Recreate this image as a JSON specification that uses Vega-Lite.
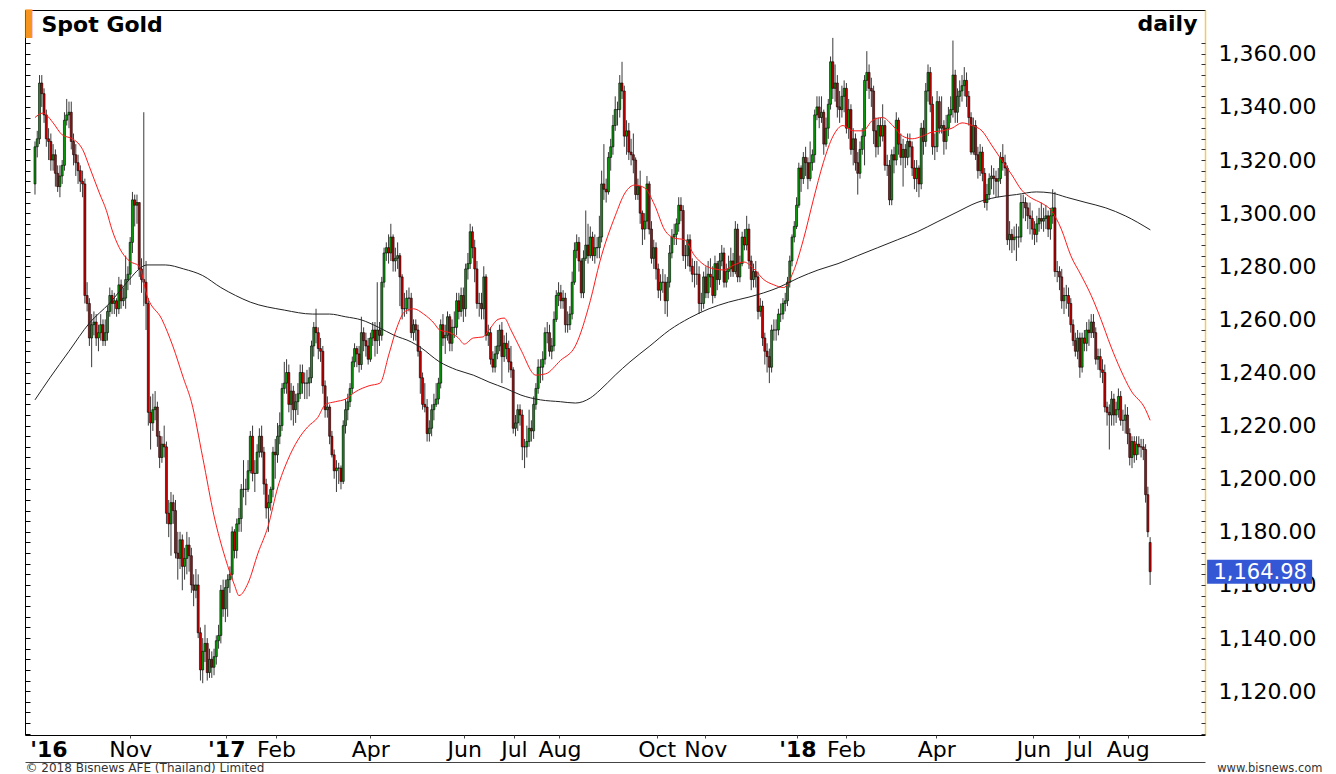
{
"$schema":"https://vega.github.io/schema/vega-lite/v6.json",
"width":1180,"height":725,
"autosize":{"type":"none"},
"padding":{"left":25,"top":10,"right":131,"bottom":39},
"background":"white",
"config":{"view":{"stroke":"#000","strokeWidth":1}},
"datasets":{
"candles":[
{"i":0,"o":1311,"h":1327,"l":1307,"c":1325},{"i":1,"o":1325,"h":1331,"l":1321,"c":1328},{"i":2,"o":1328,"h":1352,"l":1326,"c":1349},{"i":3,"o":1349,"h":1352,"l":1340,"c":1345},{"i":4,"o":1345,"h":1347,"l":1334,"c":1337},{"i":5,"o":1337,"h":1339,"l":1325,"c":1328},{"i":6,"o":1328,"h":1332,"l":1320,"c":1327},{"i":7,"o":1327,"h":1330,"l":1316,"c":1320},{"i":8,"o":1320,"h":1326,"l":1316,"c":1322},{"i":9,"o":1322,"h":1324,"l":1310,"c":1315},
{"i":10,"o":1315,"h":1318,"l":1308,"c":1310},{"i":11,"o":1310,"h":1318,"l":1306,"c":1314},{"i":12,"o":1314,"h":1320,"l":1311,"c":1318},{"i":13,"o":1318,"h":1338,"l":1316,"c":1335},{"i":14,"o":1335,"h":1343,"l":1333,"c":1337},{"i":15,"o":1337,"h":1342,"l":1332,"c":1338},{"i":16,"o":1338,"h":1342,"l":1324,"c":1327},{"i":17,"o":1327,"h":1330,"l":1318,"c":1322},{"i":18,"o":1322,"h":1326,"l":1314,"c":1319},{"i":19,"o":1319,"h":1322,"l":1311,"c":1316},
{"i":20,"o":1316,"h":1318,"l":1308,"c":1312},{"i":21,"o":1312,"h":1316,"l":1306,"c":1311},{"i":22,"o":1311,"h":1313,"l":1266,"c":1269},{"i":23,"o":1269,"h":1274,"l":1263,"c":1266},{"i":24,"o":1266,"h":1268,"l":1250,"c":1253},{"i":25,"o":1253,"h":1262,"l":1242,"c":1258},{"i":26,"o":1258,"h":1263,"l":1254,"c":1259},{"i":27,"o":1259,"h":1262,"l":1250,"c":1253},{"i":28,"o":1253,"h":1258,"l":1248,"c":1255},{"i":29,"o":1255,"h":1262,"l":1252,"c":1258},
{"i":30,"o":1258,"h":1260,"l":1250,"c":1252},{"i":31,"o":1252,"h":1260,"l":1250,"c":1255},{"i":32,"o":1255,"h":1265,"l":1252,"c":1263},{"i":33,"o":1263,"h":1272,"l":1261,"c":1269},{"i":34,"o":1269,"h":1271,"l":1262,"c":1266},{"i":35,"o":1266,"h":1270,"l":1262,"c":1267},{"i":36,"o":1267,"h":1268,"l":1261,"c":1264},{"i":37,"o":1264,"h":1276,"l":1262,"c":1273},{"i":38,"o":1273,"h":1275,"l":1264,"c":1267},{"i":39,"o":1267,"h":1272,"l":1265,"c":1268},
{"i":40,"o":1268,"h":1284,"l":1264,"c":1275},{"i":41,"o":1275,"h":1280,"l":1271,"c":1277},{"i":42,"o":1277,"h":1291,"l":1273,"c":1289},{"i":43,"o":1289,"h":1308,"l":1285,"c":1305},{"i":44,"o":1305,"h":1307,"l":1295,"c":1303},{"i":45,"o":1303,"h":1307,"l":1296,"c":1304},{"i":46,"o":1304,"h":1304,"l":1276,"c":1279},{"i":47,"o":1279,"h":1283,"l":1270,"c":1275},{"i":48,"o":1275,"h":1338,"l":1265,"c":1274},{"i":49,"o":1274,"h":1282,"l":1256,"c":1266},
{"i":50,"o":1266,"h":1268,"l":1220,"c":1225},{"i":51,"o":1225,"h":1231,"l":1211,"c":1221},{"i":52,"o":1221,"h":1232,"l":1218,"c":1226},{"i":53,"o":1226,"h":1233,"l":1222,"c":1227},{"i":54,"o":1227,"h":1229,"l":1212,"c":1216},{"i":55,"o":1216,"h":1218,"l":1204,"c":1208},{"i":56,"o":1208,"h":1216,"l":1206,"c":1213},{"i":57,"o":1213,"h":1220,"l":1208,"c":1212},{"i":58,"o":1212,"h":1214,"l":1183,"c":1187},{"i":59,"o":1187,"h":1192,"l":1178,"c":1183},
{"i":60,"o":1183,"h":1195,"l":1171,"c":1191},{"i":61,"o":1191,"h":1194,"l":1183,"c":1188},{"i":62,"o":1188,"h":1192,"l":1170,"c":1172},{"i":63,"o":1172,"h":1180,"l":1162,"c":1170},{"i":64,"o":1170,"h":1180,"l":1166,"c":1177},{"i":65,"o":1177,"h":1179,"l":1158,"c":1167},{"i":66,"o":1167,"h":1174,"l":1162,"c":1170},{"i":67,"o":1170,"h":1180,"l":1164,"c":1175},{"i":68,"o":1175,"h":1178,"l":1165,"c":1171},{"i":69,"o":1171,"h":1174,"l":1157,"c":1160},
{"i":70,"o":1160,"h":1164,"l":1152,"c":1158},{"i":71,"o":1158,"h":1166,"l":1155,"c":1160},{"i":72,"o":1160,"h":1164,"l":1140,"c":1142},{"i":73,"o":1142,"h":1144,"l":1124,"c":1128},{"i":74,"o":1128,"h":1140,"l":1123,"c":1135},{"i":75,"o":1135,"h":1145,"l":1131,"c":1138},{"i":76,"o":1138,"h":1140,"l":1124,"c":1127},{"i":77,"o":1127,"h":1136,"l":1125,"c":1132},{"i":78,"o":1132,"h":1135,"l":1125,"c":1129},{"i":79,"o":1129,"h":1136,"l":1126,"c":1133},
{"i":80,"o":1133,"h":1141,"l":1130,"c":1139},{"i":81,"o":1139,"h":1145,"l":1136,"c":1141},{"i":82,"o":1141,"h":1160,"l":1138,"c":1158},{"i":83,"o":1158,"h":1162,"l":1148,"c":1151},{"i":84,"o":1151,"h":1162,"l":1146,"c":1159},{"i":85,"o":1159,"h":1164,"l":1148,"c":1162},{"i":86,"o":1162,"h":1167,"l":1157,"c":1164},{"i":87,"o":1164,"h":1182,"l":1162,"c":1180},{"i":88,"o":1180,"h":1181,"l":1170,"c":1173},{"i":89,"o":1173,"h":1185,"l":1170,"c":1183},
{"i":90,"o":1183,"h":1189,"l":1180,"c":1185},{"i":91,"o":1185,"h":1198,"l":1180,"c":1196},{"i":92,"o":1196,"h":1207,"l":1193,"c":1196},{"i":93,"o":1196,"h":1200,"l":1190,"c":1196},{"i":94,"o":1196,"h":1207,"l":1195,"c":1203},{"i":95,"o":1203,"h":1218,"l":1202,"c":1216},{"i":96,"o":1216,"h":1220,"l":1199,"c":1202},{"i":97,"o":1202,"h":1207,"l":1195,"c":1202},{"i":98,"o":1202,"h":1213,"l":1202,"c":1210},{"i":99,"o":1210,"h":1219,"l":1208,"c":1216},
{"i":100,"o":1216,"h":1220,"l":1208,"c":1210},{"i":101,"o":1210,"h":1212,"l":1194,"c":1198},{"i":102,"o":1198,"h":1200,"l":1185,"c":1189},{"i":103,"o":1189,"h":1194,"l":1180,"c":1191},{"i":104,"o":1191,"h":1197,"l":1188,"c":1196},{"i":105,"o":1196,"h":1212,"l":1193,"c":1210},{"i":106,"o":1210,"h":1215,"l":1200,"c":1209},{"i":107,"o":1209,"h":1221,"l":1206,"c":1216},{"i":108,"o":1216,"h":1225,"l":1213,"c":1220},{"i":109,"o":1220,"h":1236,"l":1218,"c":1234},
{"i":110,"o":1234,"h":1244,"l":1232,"c":1236},{"i":111,"o":1236,"h":1245,"l":1232,"c":1240},{"i":112,"o":1240,"h":1243,"l":1225,"c":1228},{"i":113,"o":1228,"h":1236,"l":1222,"c":1233},{"i":114,"o":1233,"h":1235,"l":1220,"c":1226},{"i":115,"o":1226,"h":1232,"l":1221,"c":1229},{"i":116,"o":1229,"h":1236,"l":1224,"c":1232},{"i":117,"o":1232,"h":1243,"l":1230,"c":1240},{"i":118,"o":1240,"h":1243,"l":1232,"c":1236},{"i":119,"o":1236,"h":1240,"l":1230,"c":1236},
{"i":120,"o":1236,"h":1241,"l":1230,"c":1236},{"i":121,"o":1236,"h":1242,"l":1231,"c":1238},{"i":122,"o":1238,"h":1252,"l":1236,"c":1250},{"i":123,"o":1250,"h":1259,"l":1246,"c":1257},{"i":124,"o":1257,"h":1264,"l":1251,"c":1255},{"i":125,"o":1255,"h":1257,"l":1245,"c":1249},{"i":126,"o":1249,"h":1253,"l":1244,"c":1248},{"i":127,"o":1248,"h":1250,"l":1232,"c":1235},{"i":128,"o":1235,"h":1237,"l":1223,"c":1226},{"i":129,"o":1226,"h":1231,"l":1223,"c":1227},
{"i":130,"o":1227,"h":1228,"l":1213,"c":1216},{"i":131,"o":1216,"h":1218,"l":1208,"c":1209},{"i":132,"o":1209,"h":1211,"l":1200,"c":1203},{"i":133,"o":1203,"h":1207,"l":1195,"c":1204},{"i":134,"o":1204,"h":1206,"l":1198,"c":1204},{"i":135,"o":1204,"h":1205,"l":1196,"c":1199},{"i":136,"o":1199,"h":1222,"l":1198,"c":1220},{"i":137,"o":1220,"h":1230,"l":1217,"c":1226},{"i":138,"o":1226,"h":1232,"l":1222,"c":1229},{"i":139,"o":1229,"h":1236,"l":1227,"c":1234},
{"i":140,"o":1234,"h":1246,"l":1232,"c":1244},{"i":141,"o":1244,"h":1251,"l":1242,"c":1249},{"i":142,"o":1249,"h":1250,"l":1242,"c":1247},{"i":143,"o":1247,"h":1250,"l":1240,"c":1243},{"i":144,"o":1243,"h":1261,"l":1241,"c":1255},{"i":145,"o":1255,"h":1257,"l":1248,"c":1252},{"i":146,"o":1252,"h":1255,"l":1246,"c":1250},{"i":147,"o":1250,"h":1253,"l":1243,"c":1245},{"i":148,"o":1245,"h":1255,"l":1244,"c":1253},{"i":149,"o":1253,"h":1259,"l":1250,"c":1256},
{"i":150,"o":1256,"h":1259,"l":1246,"c":1252},{"i":151,"o":1252,"h":1274,"l":1247,"c":1256},{"i":152,"o":1256,"h":1259,"l":1250,"c":1254},{"i":153,"o":1254,"h":1276,"l":1252,"c":1274},{"i":154,"o":1274,"h":1287,"l":1272,"c":1285},{"i":155,"o":1285,"h":1289,"l":1282,"c":1287},{"i":156,"o":1287,"h":1292,"l":1281,"c":1285},{"i":157,"o":1285,"h":1296,"l":1282,"c":1291},{"i":158,"o":1291,"h":1292,"l":1278,"c":1282},{"i":159,"o":1282,"h":1287,"l":1278,"c":1283},
{"i":160,"o":1283,"h":1289,"l":1279,"c":1284},{"i":161,"o":1284,"h":1285,"l":1265,"c":1276},{"i":162,"o":1276,"h":1277,"l":1260,"c":1264},{"i":163,"o":1264,"h":1270,"l":1261,"c":1264},{"i":164,"o":1264,"h":1271,"l":1262,"c":1268},{"i":165,"o":1268,"h":1272,"l":1263,"c":1268},{"i":166,"o":1268,"h":1270,"l":1253,"c":1255},{"i":167,"o":1255,"h":1260,"l":1252,"c":1258},{"i":168,"o":1258,"h":1260,"l":1252,"c":1256},{"i":169,"o":1256,"h":1258,"l":1246,"c":1248},
{"i":170,"o":1248,"h":1250,"l":1232,"c":1238},{"i":171,"o":1238,"h":1240,"l":1226,"c":1228},{"i":172,"o":1228,"h":1236,"l":1225,"c":1227},{"i":173,"o":1227,"h":1230,"l":1214,"c":1217},{"i":174,"o":1217,"h":1222,"l":1214,"c":1219},{"i":175,"o":1219,"h":1228,"l":1216,"c":1226},{"i":176,"o":1226,"h":1232,"l":1222,"c":1228},{"i":177,"o":1228,"h":1236,"l":1227,"c":1230},{"i":178,"o":1230,"h":1238,"l":1228,"c":1236},{"i":179,"o":1236,"h":1260,"l":1234,"c":1258},
{"i":180,"o":1258,"h":1262,"l":1250,"c":1253},{"i":181,"o":1253,"h":1258,"l":1247,"c":1254},{"i":182,"o":1254,"h":1263,"l":1252,"c":1261},{"i":183,"o":1261,"h":1262,"l":1248,"c":1251},{"i":184,"o":1251,"h":1260,"l":1248,"c":1257},{"i":185,"o":1257,"h":1263,"l":1253,"c":1257},{"i":186,"o":1257,"h":1270,"l":1254,"c":1267},{"i":187,"o":1267,"h":1270,"l":1260,"c":1263},{"i":188,"o":1263,"h":1272,"l":1261,"c":1269},{"i":189,"o":1269,"h":1272,"l":1259,"c":1264},
{"i":190,"o":1264,"h":1281,"l":1261,"c":1279},{"i":191,"o":1279,"h":1285,"l":1275,"c":1281},{"i":192,"o":1281,"h":1296,"l":1279,"c":1293},{"i":193,"o":1293,"h":1295,"l":1283,"c":1287},{"i":194,"o":1287,"h":1290,"l":1274,"c":1279},{"i":195,"o":1279,"h":1282,"l":1264,"c":1266},{"i":196,"o":1266,"h":1270,"l":1261,"c":1266},{"i":197,"o":1266,"h":1270,"l":1260,"c":1264},{"i":198,"o":1264,"h":1280,"l":1260,"c":1276},{"i":199,"o":1276,"h":1277,"l":1252,"c":1254},
{"i":200,"o":1254,"h":1258,"l":1250,"c":1255},{"i":201,"o":1255,"h":1257,"l":1243,"c":1245},{"i":202,"o":1245,"h":1248,"l":1240,"c":1242},{"i":203,"o":1242,"h":1250,"l":1240,"c":1247},{"i":204,"o":1247,"h":1256,"l":1245,"c":1250},{"i":205,"o":1250,"h":1258,"l":1248,"c":1256},{"i":206,"o":1256,"h":1259,"l":1236,"c":1246},{"i":207,"o":1246,"h":1254,"l":1244,"c":1251},{"i":208,"o":1251,"h":1255,"l":1245,"c":1249},{"i":209,"o":1249,"h":1252,"l":1240,"c":1244},
{"i":210,"o":1244,"h":1250,"l":1238,"c":1241},{"i":211,"o":1241,"h":1242,"l":1217,"c":1219},{"i":212,"o":1219,"h":1224,"l":1216,"c":1221},{"i":213,"o":1221,"h":1228,"l":1218,"c":1226},{"i":214,"o":1226,"h":1228,"l":1220,"c":1224},{"i":215,"o":1224,"h":1226,"l":1207,"c":1212},{"i":216,"o":1212,"h":1215,"l":1204,"c":1212},{"i":217,"o":1212,"h":1220,"l":1208,"c":1214},{"i":218,"o":1214,"h":1226,"l":1212,"c":1219},{"i":219,"o":1219,"h":1222,"l":1214,"c":1218},
{"i":220,"o":1218,"h":1231,"l":1215,"c":1228},{"i":221,"o":1228,"h":1236,"l":1226,"c":1234},{"i":222,"o":1234,"h":1245,"l":1232,"c":1242},{"i":223,"o":1242,"h":1245,"l":1236,"c":1242},{"i":224,"o":1242,"h":1248,"l":1237,"c":1245},{"i":225,"o":1245,"h":1257,"l":1243,"c":1255},{"i":226,"o":1255,"h":1259,"l":1251,"c":1255},{"i":227,"o":1255,"h":1258,"l":1246,"c":1248},{"i":228,"o":1248,"h":1253,"l":1245,"c":1250},{"i":229,"o":1250,"h":1263,"l":1248,"c":1260},
{"i":230,"o":1260,"h":1271,"l":1259,"c":1269},{"i":231,"o":1269,"h":1274,"l":1265,"c":1270},{"i":232,"o":1270,"h":1273,"l":1264,"c":1267},{"i":233,"o":1267,"h":1271,"l":1264,"c":1268},{"i":234,"o":1268,"h":1270,"l":1255,"c":1258},{"i":235,"o":1258,"h":1263,"l":1255,"c":1258},{"i":236,"o":1258,"h":1265,"l":1256,"c":1262},{"i":237,"o":1262,"h":1278,"l":1260,"c":1274},{"i":238,"o":1274,"h":1289,"l":1273,"c":1286},{"i":239,"o":1286,"h":1292,"l":1283,"c":1289},
{"i":240,"o":1289,"h":1291,"l":1278,"c":1282},{"i":241,"o":1282,"h":1283,"l":1268,"c":1270},{"i":242,"o":1270,"h":1286,"l":1268,"c":1283},{"i":243,"o":1283,"h":1301,"l":1282,"c":1288},{"i":244,"o":1288,"h":1296,"l":1281,"c":1284},{"i":245,"o":1284,"h":1295,"l":1283,"c":1291},{"i":246,"o":1291,"h":1293,"l":1282,"c":1284},{"i":247,"o":1284,"h":1292,"l":1281,"c":1287},{"i":248,"o":1287,"h":1291,"l":1283,"c":1287},{"i":249,"o":1287,"h":1299,"l":1283,"c":1291},
{"i":250,"o":1291,"h":1316,"l":1289,"c":1311},{"i":251,"o":1311,"h":1326,"l":1305,"c":1309},{"i":252,"o":1309,"h":1313,"l":1304,"c":1308},{"i":253,"o":1308,"h":1323,"l":1307,"c":1321},{"i":254,"o":1321,"h":1328,"l":1316,"c":1325},{"i":255,"o":1325,"h":1337,"l":1322,"c":1333},{"i":256,"o":1333,"h":1344,"l":1331,"c":1339},{"i":257,"o":1339,"h":1342,"l":1333,"c":1339},{"i":258,"o":1339,"h":1352,"l":1336,"c":1349},{"i":259,"o":1349,"h":1357,"l":1343,"c":1346},
{"i":260,"o":1346,"h":1348,"l":1325,"c":1329},{"i":261,"o":1329,"h":1335,"l":1322,"c":1331},{"i":262,"o":1331,"h":1334,"l":1320,"c":1323},{"i":263,"o":1323,"h":1328,"l":1318,"c":1322},{"i":264,"o":1322,"h":1330,"l":1315,"c":1320},{"i":265,"o":1320,"h":1321,"l":1305,"c":1307},{"i":266,"o":1307,"h":1313,"l":1305,"c":1310},{"i":267,"o":1310,"h":1316,"l":1296,"c":1300},{"i":268,"o":1300,"h":1301,"l":1288,"c":1294},{"i":269,"o":1294,"h":1300,"l":1290,"c":1297},
{"i":270,"o":1297,"h":1314,"l":1294,"c":1311},{"i":271,"o":1311,"h":1312,"l":1292,"c":1294},{"i":272,"o":1294,"h":1297,"l":1281,"c":1283},{"i":273,"o":1283,"h":1290,"l":1279,"c":1287},{"i":274,"o":1287,"h":1289,"l":1275,"c":1279},{"i":275,"o":1279,"h":1281,"l":1268,"c":1271},{"i":276,"o":1271,"h":1277,"l":1267,"c":1274},{"i":277,"o":1274,"h":1279,"l":1270,"c":1274},{"i":278,"o":1274,"h":1277,"l":1262,"c":1267},{"i":279,"o":1267,"h":1276,"l":1261,"c":1274},
{"i":280,"o":1274,"h":1288,"l":1272,"c":1285},{"i":281,"o":1285,"h":1294,"l":1283,"c":1291},{"i":282,"o":1291,"h":1296,"l":1288,"c":1292},{"i":283,"o":1292,"h":1298,"l":1288,"c":1296},{"i":284,"o":1296,"h":1306,"l":1293,"c":1303},{"i":285,"o":1303,"h":1306,"l":1297,"c":1301},{"i":286,"o":1301,"h":1303,"l":1282,"c":1284},{"i":287,"o":1284,"h":1288,"l":1279,"c":1284},{"i":288,"o":1284,"h":1292,"l":1280,"c":1290},{"i":289,"o":1290,"h":1292,"l":1278,"c":1280},
{"i":290,"o":1280,"h":1283,"l":1274,"c":1277},{"i":291,"o":1277,"h":1282,"l":1272,"c":1277},{"i":292,"o":1277,"h":1282,"l":1273,"c":1277},{"i":293,"o":1277,"h":1280,"l":1262,"c":1266},{"i":294,"o":1266,"h":1270,"l":1263,"c":1266},{"i":295,"o":1266,"h":1278,"l":1264,"c":1276},{"i":296,"o":1276,"h":1280,"l":1268,"c":1270},{"i":297,"o":1270,"h":1282,"l":1268,"c":1277},{"i":298,"o":1277,"h":1283,"l":1272,"c":1276},{"i":299,"o":1276,"h":1280,"l":1266,"c":1269},
{"i":300,"o":1269,"h":1284,"l":1268,"c":1281},{"i":301,"o":1281,"h":1282,"l":1271,"c":1275},{"i":302,"o":1275,"h":1285,"l":1273,"c":1282},{"i":303,"o":1282,"h":1288,"l":1280,"c":1285},{"i":304,"o":1285,"h":1287,"l":1272,"c":1274},{"i":305,"o":1274,"h":1281,"l":1272,"c":1278},{"i":306,"o":1278,"h":1284,"l":1275,"c":1279},{"i":307,"o":1279,"h":1287,"l":1276,"c":1282},{"i":308,"o":1282,"h":1285,"l":1276,"c":1278},{"i":309,"o":1278,"h":1297,"l":1277,"c":1294},
{"i":310,"o":1294,"h":1296,"l":1274,"c":1276},{"i":311,"o":1276,"h":1284,"l":1274,"c":1281},{"i":312,"o":1281,"h":1293,"l":1280,"c":1291},{"i":313,"o":1291,"h":1294,"l":1286,"c":1288},{"i":314,"o":1288,"h":1299,"l":1286,"c":1294},{"i":315,"o":1294,"h":1296,"l":1279,"c":1282},{"i":316,"o":1282,"h":1284,"l":1271,"c":1275},{"i":317,"o":1275,"h":1281,"l":1272,"c":1278},{"i":318,"o":1278,"h":1282,"l":1272,"c":1276},{"i":319,"o":1276,"h":1278,"l":1260,"c":1263},
{"i":320,"o":1263,"h":1268,"l":1261,"c":1265},{"i":321,"o":1265,"h":1267,"l":1250,"c":1253},{"i":322,"o":1253,"h":1255,"l":1243,"c":1248},{"i":323,"o":1248,"h":1251,"l":1240,"c":1246},{"i":324,"o":1246,"h":1249,"l":1236,"c":1242},{"i":325,"o":1242,"h":1258,"l":1240,"c":1256},{"i":326,"o":1256,"h":1260,"l":1252,"c":1256},{"i":327,"o":1256,"h":1260,"l":1252,"c":1256},{"i":328,"o":1256,"h":1264,"l":1254,"c":1262},{"i":329,"o":1262,"h":1266,"l":1259,"c":1262},
{"i":330,"o":1262,"h":1268,"l":1260,"c":1266},{"i":331,"o":1266,"h":1270,"l":1263,"c":1267},{"i":332,"o":1267,"h":1276,"l":1265,"c":1274},{"i":333,"o":1274,"h":1284,"l":1272,"c":1282},{"i":334,"o":1282,"h":1292,"l":1280,"c":1291},{"i":335,"o":1291,"h":1297,"l":1289,"c":1295},{"i":336,"o":1295,"h":1306,"l":1294,"c":1303},{"i":337,"o":1303,"h":1319,"l":1302,"c":1317},{"i":338,"o":1317,"h":1318,"l":1308,"c":1313},{"i":339,"o":1313,"h":1323,"l":1311,"c":1321},
{"i":340,"o":1321,"h":1325,"l":1314,"c":1319},{"i":341,"o":1319,"h":1321,"l":1309,"c":1313},{"i":342,"o":1313,"h":1327,"l":1312,"c":1319},{"i":343,"o":1319,"h":1324,"l":1316,"c":1322},{"i":344,"o":1322,"h":1339,"l":1319,"c":1337},{"i":345,"o":1337,"h":1344,"l":1335,"c":1340},{"i":346,"o":1340,"h":1344,"l":1332,"c":1336},{"i":347,"o":1336,"h":1344,"l":1334,"c":1338},{"i":348,"o":1338,"h":1339,"l":1322,"c":1326},{"i":349,"o":1326,"h":1336,"l":1325,"c":1332},
{"i":350,"o":1332,"h":1343,"l":1328,"c":1341},{"i":351,"o":1341,"h":1359,"l":1339,"c":1357},{"i":352,"o":1357,"h":1366,"l":1343,"c":1347},{"i":353,"o":1347,"h":1356,"l":1342,"c":1349},{"i":354,"o":1349,"h":1352,"l":1336,"c":1340},{"i":355,"o":1340,"h":1346,"l":1334,"c":1339},{"i":356,"o":1339,"h":1348,"l":1336,"c":1344},{"i":357,"o":1344,"h":1350,"l":1338,"c":1347},{"i":358,"o":1347,"h":1349,"l":1330,"c":1332},{"i":359,"o":1332,"h":1343,"l":1328,"c":1339},
{"i":360,"o":1339,"h":1341,"l":1322,"c":1324},{"i":361,"o":1324,"h":1332,"l":1318,"c":1328},{"i":362,"o":1328,"h":1330,"l":1316,"c":1319},{"i":363,"o":1319,"h":1323,"l":1307,"c":1315},{"i":364,"o":1315,"h":1327,"l":1313,"c":1324},{"i":365,"o":1324,"h":1332,"l":1322,"c":1329},{"i":366,"o":1329,"h":1352,"l":1318,"c":1350},{"i":367,"o":1350,"h":1361,"l":1346,"c":1353},{"i":368,"o":1353,"h":1356,"l":1343,"c":1347},{"i":369,"o":1347,"h":1351,"l":1340,"c":1346},
{"i":370,"o":1346,"h":1348,"l":1326,"c":1331},{"i":371,"o":1331,"h":1336,"l":1321,"c":1325},{"i":372,"o":1325,"h":1336,"l":1322,"c":1333},{"i":373,"o":1333,"h":1336,"l":1325,"c":1329},{"i":374,"o":1329,"h":1341,"l":1327,"c":1333},{"i":375,"o":1333,"h":1335,"l":1316,"c":1318},{"i":376,"o":1318,"h":1322,"l":1314,"c":1318},{"i":377,"o":1318,"h":1320,"l":1303,"c":1305},{"i":378,"o":1305,"h":1324,"l":1303,"c":1322},{"i":379,"o":1322,"h":1325,"l":1315,"c":1320},
{"i":380,"o":1320,"h":1338,"l":1318,"c":1335},{"i":381,"o":1335,"h":1336,"l":1322,"c":1326},{"i":382,"o":1326,"h":1330,"l":1318,"c":1321},{"i":383,"o":1321,"h":1328,"l":1310,"c":1324},{"i":384,"o":1324,"h":1326,"l":1317,"c":1321},{"i":385,"o":1321,"h":1330,"l":1318,"c":1327},{"i":386,"o":1327,"h":1330,"l":1321,"c":1325},{"i":387,"o":1325,"h":1327,"l":1314,"c":1317},{"i":388,"o":1317,"h":1320,"l":1309,"c":1313},{"i":389,"o":1313,"h":1320,"l":1308,"c":1317},
{"i":390,"o":1317,"h":1318,"l":1306,"c":1311},{"i":391,"o":1311,"h":1334,"l":1309,"c":1332},{"i":392,"o":1332,"h":1335,"l":1322,"c":1327},{"i":393,"o":1327,"h":1349,"l":1325,"c":1346},{"i":394,"o":1346,"h":1356,"l":1342,"c":1353},{"i":395,"o":1353,"h":1355,"l":1338,"c":1341},{"i":396,"o":1341,"h":1344,"l":1322,"c":1325},{"i":397,"o":1325,"h":1330,"l":1320,"c":1325},{"i":398,"o":1325,"h":1346,"l":1323,"c":1342},{"i":399,"o":1342,"h":1344,"l":1330,"c":1332},
{"i":400,"o":1332,"h":1344,"l":1330,"c":1333},{"i":401,"o":1333,"h":1335,"l":1322,"c":1327},{"i":402,"o":1327,"h":1337,"l":1324,"c":1332},{"i":403,"o":1332,"h":1340,"l":1329,"c":1337},{"i":404,"o":1337,"h":1344,"l":1334,"c":1339},{"i":405,"o":1339,"h":1365,"l":1336,"c":1352},{"i":406,"o":1352,"h":1354,"l":1334,"c":1338},{"i":407,"o":1338,"h":1347,"l":1334,"c":1344},{"i":408,"o":1344,"h":1350,"l":1340,"c":1346},{"i":409,"o":1346,"h":1352,"l":1342,"c":1348},
{"i":410,"o":1348,"h":1355,"l":1344,"c":1350},{"i":411,"o":1350,"h":1353,"l":1340,"c":1344},{"i":412,"o":1344,"h":1346,"l":1333,"c":1336},{"i":413,"o":1336,"h":1338,"l":1322,"c":1323},{"i":414,"o":1323,"h":1336,"l":1322,"c":1333},{"i":415,"o":1333,"h":1335,"l":1320,"c":1322},{"i":416,"o":1322,"h":1325,"l":1313,"c":1316},{"i":417,"o":1316,"h":1326,"l":1314,"c":1323},{"i":418,"o":1323,"h":1325,"l":1312,"c":1315},{"i":419,"o":1315,"h":1317,"l":1302,"c":1304},
{"i":420,"o":1304,"h":1311,"l":1301,"c":1307},{"i":421,"o":1307,"h":1315,"l":1305,"c":1313},{"i":422,"o":1313,"h":1318,"l":1309,"c":1314},{"i":423,"o":1314,"h":1317,"l":1307,"c":1313},{"i":424,"o":1313,"h":1316,"l":1306,"c":1312},{"i":425,"o":1312,"h":1317,"l":1306,"c":1313},{"i":426,"o":1313,"h":1323,"l":1311,"c":1321},{"i":427,"o":1321,"h":1326,"l":1316,"c":1319},{"i":428,"o":1319,"h":1322,"l":1314,"c":1317},{"i":429,"o":1317,"h":1318,"l":1288,"c":1290},
{"i":430,"o":1290,"h":1297,"l":1286,"c":1292},{"i":431,"o":1292,"h":1294,"l":1285,"c":1290},{"i":432,"o":1290,"h":1295,"l":1286,"c":1291},{"i":433,"o":1291,"h":1296,"l":1282,"c":1291},{"i":434,"o":1291,"h":1295,"l":1287,"c":1291},{"i":435,"o":1291,"h":1307,"l":1289,"c":1304},{"i":436,"o":1304,"h":1307,"l":1298,"c":1304},{"i":437,"o":1304,"h":1306,"l":1297,"c":1302},{"i":438,"o":1302,"h":1304,"l":1294,"c":1299},{"i":439,"o":1299,"h":1304,"l":1292,"c":1298},
{"i":440,"o":1298,"h":1301,"l":1290,"c":1294},{"i":441,"o":1294,"h":1297,"l":1288,"c":1292},{"i":442,"o":1292,"h":1299,"l":1289,"c":1296},{"i":443,"o":1296,"h":1302,"l":1293,"c":1298},{"i":444,"o":1298,"h":1304,"l":1294,"c":1297},{"i":445,"o":1297,"h":1302,"l":1293,"c":1298},{"i":446,"o":1298,"h":1303,"l":1294,"c":1299},{"i":447,"o":1299,"h":1301,"l":1291,"c":1294},{"i":448,"o":1294,"h":1302,"l":1290,"c":1299},{"i":449,"o":1299,"h":1309,"l":1296,"c":1302},
{"i":450,"o":1302,"h":1308,"l":1276,"c":1278},{"i":451,"o":1278,"h":1282,"l":1274,"c":1278},{"i":452,"o":1278,"h":1280,"l":1271,"c":1276},{"i":453,"o":1276,"h":1279,"l":1264,"c":1267},{"i":454,"o":1267,"h":1272,"l":1262,"c":1269},{"i":455,"o":1269,"h":1273,"l":1264,"c":1269},{"i":456,"o":1269,"h":1272,"l":1261,"c":1266},{"i":457,"o":1266,"h":1268,"l":1255,"c":1258},{"i":458,"o":1258,"h":1260,"l":1250,"c":1252},{"i":459,"o":1252,"h":1255,"l":1246,"c":1248},
{"i":460,"o":1248,"h":1256,"l":1245,"c":1253},{"i":461,"o":1253,"h":1255,"l":1238,"c":1242},{"i":462,"o":1242,"h":1255,"l":1240,"c":1253},{"i":463,"o":1253,"h":1256,"l":1248,"c":1251},{"i":464,"o":1251,"h":1259,"l":1248,"c":1256},{"i":465,"o":1256,"h":1260,"l":1250,"c":1255},{"i":466,"o":1255,"h":1262,"l":1253,"c":1259},{"i":467,"o":1259,"h":1262,"l":1253,"c":1255},{"i":468,"o":1255,"h":1257,"l":1243,"c":1245},{"i":469,"o":1245,"h":1249,"l":1241,"c":1246},
{"i":470,"o":1246,"h":1249,"l":1238,"c":1241},{"i":471,"o":1241,"h":1245,"l":1236,"c":1240},{"i":472,"o":1240,"h":1243,"l":1225,"c":1227},{"i":473,"o":1227,"h":1229,"l":1220,"c":1225},{"i":474,"o":1225,"h":1228,"l":1211,"c":1224},{"i":475,"o":1224,"h":1233,"l":1220,"c":1230},{"i":476,"o":1230,"h":1232,"l":1220,"c":1224},{"i":477,"o":1224,"h":1229,"l":1221,"c":1226},{"i":478,"o":1226,"h":1234,"l":1223,"c":1231},{"i":479,"o":1231,"h":1233,"l":1220,"c":1222},
{"i":480,"o":1222,"h":1226,"l":1218,"c":1222},{"i":481,"o":1222,"h":1228,"l":1217,"c":1224},{"i":482,"o":1224,"h":1227,"l":1213,"c":1217},{"i":483,"o":1217,"h":1219,"l":1205,"c":1208},{"i":484,"o":1208,"h":1216,"l":1204,"c":1214},{"i":485,"o":1214,"h":1216,"l":1206,"c":1209},{"i":486,"o":1209,"h":1216,"l":1207,"c":1213},{"i":487,"o":1213,"h":1216,"l":1209,"c":1212},{"i":488,"o":1212,"h":1215,"l":1208,"c":1212},{"i":489,"o":1212,"h":1215,"l":1207,"c":1211},
{"i":490,"o":1211,"h":1213,"l":1191,"c":1194},{"i":491,"o":1194,"h":1197,"l":1178,"c":1180},{"i":492,"o":1176,"h":1178,"l":1160,"c":1164.98}
],
"ma20":[
{"i":0,"v":1336},{"i":3.5,"v":1337.7},{"i":5,"v":1337},{"i":8,"v":1334},{"i":12,"v":1329.5},{"i":16.5,"v":1328},{"i":19.7,"v":1325.7},{"i":21,"v":1324},{"i":24,"v":1317.5},{"i":28.4,"v":1307.6},{"i":31.5,"v":1301},{"i":34,"v":1293.7},{"i":37.2,"v":1287},{"i":41.6,"v":1282},{"i":46,"v":1280},{"i":49.4,"v":1269},{"i":56,"v":1260},{"i":60.8,"v":1250},{"i":65.6,"v":1237.6},{"i":69,"v":1229},{"i":74,"v":1208},{"i":79,"v":1186},{"i":84,"v":1170},{"i":88,"v":1160},{"i":90,"v":1156},{"i":94,"v":1160.7},{"i":98.4,"v":1172},{"i":102.8,"v":1182},{"i":107.2,"v":1197},{"i":111.5,"v":1207},{"i":116,"v":1214.6},{"i":120.3,"v":1219.5},{"i":124.7,"v":1223},{"i":128.2,"v":1228},{"i":132.5,"v":1229},{"i":137,"v":1230},{"i":141.3,"v":1232.7},{"i":147.4,"v":1235},{"i":152.2,"v":1236},{"i":156.2,"v":1247},{"i":159.7,"v":1257},{"i":163.2,"v":1263},{"i":167,"v":1264},{"i":171.5,"v":1262},{"i":176,"v":1258.6},{"i":178.5,"v":1256},{"i":183,"v":1255},{"i":186.8,"v":1253},{"i":189.4,"v":1250.7},{"i":193.4,"v":1253},{"i":197.7,"v":1253.4},{"i":200.3,"v":1256},{"i":204.3,"v":1260},{"i":207,"v":1260.5},{"i":210,"v":1256},{"i":214.4,"v":1248.5},{"i":221,"v":1239},{"i":225.3,"v":1239.5},{"i":231.8,"v":1244.5},{"i":238.4,"v":1250},{"i":245,"v":1267},{"i":249.3,"v":1282},{"i":256,"v":1299},{"i":260.3,"v":1307.6},{"i":264.7,"v":1310.6},{"i":269,"v":1309.5},{"i":273.4,"v":1303},{"i":277.8,"v":1293.7},{"i":282.2,"v":1290.6},{"i":286.6,"v":1290},{"i":291,"v":1284},{"i":295.3,"v":1280.5},{"i":299.7,"v":1279},{"i":304,"v":1278.6},{"i":308.4,"v":1280.5},{"i":312.8,"v":1281.6},{"i":317.2,"v":1279},{"i":321.5,"v":1275},{"i":326,"v":1273},{"i":330.3,"v":1272},{"i":334.6,"v":1278},{"i":339,"v":1290},{"i":343.4,"v":1305},{"i":347.8,"v":1319},{"i":352.1,"v":1329},{"i":356.5,"v":1333},{"i":361,"v":1331},{"i":365.3,"v":1331},{"i":369.6,"v":1335},{"i":374,"v":1336},{"i":378.4,"v":1333},{"i":382.8,"v":1329},{"i":387,"v":1328},{"i":391.5,"v":1329},{"i":396,"v":1330.6},{"i":400.3,"v":1331},{"i":404.6,"v":1332},{"i":409,"v":1334},{"i":413.4,"v":1333},{"i":417.8,"v":1331},{"i":422,"v":1325.7},{"i":426.5,"v":1320},{"i":431,"v":1314.4},{"i":435.3,"v":1308.7},{"i":439.6,"v":1305.7},{"i":444,"v":1303.8},{"i":448.4,"v":1301},{"i":452.8,"v":1294},{"i":457,"v":1284},{"i":461.5,"v":1276.7},{"i":466,"v":1269},{"i":470.3,"v":1260},{"i":474.6,"v":1250},{"i":479,"v":1241},{"i":483.4,"v":1233.4},{"i":490,"v":1226},{"i":492,"v":1222}
],
"ma200":[
{"i":0,"v":1229.7},{"i":6.6,"v":1238},{"i":15,"v":1248},{"i":24,"v":1258.6},{"i":32.8,"v":1266},{"i":41.6,"v":1275},{"i":46,"v":1279},{"i":49.4,"v":1280.5},{"i":57.5,"v":1280.5},{"i":65.6,"v":1279},{"i":74,"v":1276.5},{"i":82,"v":1272},{"i":88.5,"v":1269},{"i":95,"v":1266.5},{"i":110,"v":1263.5},{"i":122.5,"v":1262},{"i":130,"v":1262},{"i":136.9,"v":1261},{"i":144,"v":1259.8},{"i":151.6,"v":1257},{"i":158.5,"v":1254},{"i":166,"v":1251.5},{"i":170,"v":1249.5},{"i":178.5,"v":1244},{"i":186,"v":1241},{"i":193.4,"v":1239},{"i":200.3,"v":1236.4},{"i":207.7,"v":1234},{"i":214.4,"v":1231.5},{"i":223,"v":1229.7},{"i":231.8,"v":1229},{"i":238.4,"v":1228.5},{"i":245,"v":1230.4},{"i":249.3,"v":1233.4},{"i":256,"v":1239},{"i":262.5,"v":1244},{"i":271.3,"v":1250},{"i":280,"v":1256},{"i":288.7,"v":1260.5},{"i":297.4,"v":1264},{"i":306,"v":1266.5},{"i":315,"v":1268.4},{"i":321.5,"v":1270},{"i":328,"v":1272},{"i":336.8,"v":1275.6},{"i":345.5,"v":1278.6},{"i":354.3,"v":1281},{"i":363,"v":1284},{"i":371.8,"v":1287},{"i":380.6,"v":1290},{"i":389.3,"v":1293},{"i":398,"v":1296.7},{"i":406.8,"v":1300.4},{"i":415.6,"v":1304},{"i":424.3,"v":1306},{"i":433,"v":1307},{"i":441.8,"v":1308},{"i":448.4,"v":1307.6},{"i":455,"v":1306},{"i":463.7,"v":1304},{"i":472.4,"v":1302},{"i":481,"v":1299},{"i":492.1,"v":1293.7}
]
},
"layer":[
{"data":{"name":"candles"},
 "mark":{"type":"rule","color":"#3a3a3a","strokeWidth":1},
 "encoding":{
  "x":{"field":"i","type":"quantitative","scale":{"domain":[-2.2,514],"nice":false,"zero":false},
   "axis":{"orient":"bottom","values":[5.9,42,84.4,106.3,147.9,189.4,211.3,231.4,274.3,295.7,336.4,357.8,397.6,440.5,460.6,482.1],
    "labelExpr":"datum.value < 20 ? \"'16\" : datum.value < 60 ? 'Nov' : datum.value < 95 ? \"'17\" : datum.value < 120 ? 'Feb' : datum.value < 170 ? 'Apr' : datum.value < 200 ? 'Jun' : datum.value < 220 ? 'Jul' : datum.value < 250 ? 'Aug' : datum.value < 285 ? 'Oct' : datum.value < 320 ? 'Nov' : datum.value < 345 ? \"'18\" : datum.value < 370 ? 'Feb' : datum.value < 420 ? 'Apr' : datum.value < 450 ? 'Jun' : datum.value < 470 ? 'Jul' : 'Aug'",
    "domain":false,"grid":false,"ticks":true,"tickSize":3,"tickColor":"#444",
    "tickOpacity":{"condition":{"test":"datum.value < 20","value":0},"value":1},
    "labelFont":"DejaVu Sans","labelFontSize":22,"labelColor":"#000","labelPadding":1,"labelFlush":false,"labelOverlap":false,"labelBaseline":"top",
    "labelFontWeight":{"condition":{"test":"datum.value < 20 || (datum.value > 80 && datum.value < 90) || (datum.value > 330 && datum.value < 340)","value":"bold"},"value":"normal"},
    "title":"© 2018 Bisnews AFE (Thailand) Limited","titleFont":"DejaVu Sans","titleFontSize":12,"titleFontWeight":"normal","titleColor":"#333","titleAlign":"left","titleX":0,"titleY":36.5,"titleBaseline":"alphabetic"}},
  "y":{"field":"l","type":"quantitative","scale":{"domain":[1103.5,1376.5],"nice":false,"zero":false},
   "axis":{"orient":"right","values":[1120,1140,1160,1180,1200,1220,1240,1260,1280,1300,1320,1340,1360],"format":",.2f",
    "domain":true,"domainColor":"#f0cc60","domainWidth":1.5,"ticks":false,"grid":false,
    "labelFont":"DejaVu Sans","labelFontSize":22,"labelColor":"#000","labelPadding":13,"labelBaseline":"middle","labelFlush":false,"labelOverlap":false,
    "title":"daily","titleAngle":0,"titleAlign":"right","titleBaseline":"alphabetic","titleX":-8,"titleY":20,"titleFont":"DejaVu Sans","titleFontSize":22,"titleFontWeight":"bold","titleColor":"#000"}},
  "y2":{"field":"h"}}},
{"data":{"name":"candles"},
 "mark":{"type":"bar","size":2,"stroke":"#000","strokeWidth":0.6},
 "encoding":{
  "x":{"field":"i","type":"quantitative","scale":{"domain":[-2.2,514],"nice":false,"zero":false},
   "axis":{"orient":"bottom","offset":27,"domain":true,"domainColor":"#444","domainWidth":1,"ticks":false,"labels":false,"grid":false,
    "title":"www.bisnews.com","titleFont":"DejaVu Sans","titleFontSize":11.5,"titleFontWeight":"normal","titleColor":"#333","titleAlign":"right","titleX":1297,"titleY":9.5,"titleBaseline":"alphabetic"}},
  "y":{"field":"o","type":"quantitative","scale":{"domain":[1103.5,1376.5],"nice":false,"zero":false},
   "axis":{"orient":"left","offset":-5,"domain":false,"ticks":true,"tickSize":5,"tickColor":"#000","labels":false,"grid":false,
    "values":[1104,1108,1112,1116,1120,1124,1128,1132,1136,1140,1144,1148,1152,1156,1160,1164,1168,1172,1176,1180,1184,1188,1192,1196,1200,1204,1208,1212,1216,1220,1224,1228,1232,1236,1240,1244,1248,1252,1256,1260,1264,1268,1272,1276,1280,1284,1288,1292,1296,1300,1304,1308,1312,1316,1320,1324,1328,1332,1336,1340,1344,1348,1352,1356,1360,1364,1368,1372],
    "title":"▍","titleAngle":0,"titleColor":"#f7941d","titleFont":"DejaVu Sans","titleFontSize":24,"titleFontWeight":"normal","titleAlign":"left","titleBaseline":"alphabetic","titleX":-5,"titleY":21}},
  "y2":{"field":"c"},
  "fill":{"condition":{"test":"datum.c >= datum.o","value":"#0b9a0b"},"value":"#c80000"}}},
{"data":{"name":"ma20"},
 "mark":{"type":"line","color":"#ff1a1a","strokeWidth":1,"interpolate":"monotone"},
 "encoding":{
  "x":{"field":"i","type":"quantitative","scale":{"domain":[-2.2,514],"nice":false,"zero":false},"axis":null},
  "y":{"field":"v","type":"quantitative","scale":{"domain":[1103.5,1376.5],"nice":false,"zero":false},
   "axis":{"orient":"left","domain":false,"ticks":false,"labels":false,"grid":false,
    "title":"Spot Gold","titleAngle":0,"titleAlign":"left","titleBaseline":"alphabetic","titleX":16,"titleY":21,"titleFont":"DejaVu Sans","titleFontSize":22,"titleFontWeight":"bold","titleColor":"#000"}}}},
{"data":{"name":"ma200"},
 "mark":{"type":"line","color":"#222","strokeWidth":1,"interpolate":"monotone"},
 "encoding":{
  "x":{"field":"i","type":"quantitative","scale":{"domain":[-2.2,514],"nice":false,"zero":false},"axis":null},
  "y":{"field":"v","type":"quantitative","scale":{"domain":[1103.5,1376.5],"nice":false,"zero":false},
   "axis":{"orient":"right","offset":-4,"domain":false,"ticks":true,"tickSize":4,"tickColor":"#333","labels":false,"grid":false,"title":null,
    "values":[1104,1108,1112,1116,1120,1124,1128,1132,1136,1140,1144,1148,1152,1156,1160,1164,1168,1172,1176,1180,1184,1188,1192,1196,1200,1204,1208,1212,1216,1220,1224,1228,1232,1236,1240,1244,1248,1252,1256,1260,1264,1268,1272,1276,1280,1284,1288,1292,1296,1300,1304,1308,1312,1316,1320,1324,1328,1332,1336,1340,1344,1348,1352,1356,1360,1364]}}}},
{"data":{"name":"candles"},
 "transform":[{"filter":"datum.i == 492"}],
 "mark":{"type":"rect","color":"#3457d5","xOffset":57,"x2Offset":162,"yOffset":-12,"y2Offset":12},
 "encoding":{
  "x":{"field":"i","type":"quantitative","scale":{"domain":[-2.2,514],"nice":false,"zero":false},"axis":null},
  "x2":{"field":"i"},
  "y":{"field":"c","type":"quantitative","scale":{"domain":[1103.5,1376.5],"nice":false,"zero":false},"axis":null},
  "y2":{"field":"c"}}},
{"data":{"name":"candles"},
 "transform":[{"filter":"datum.i == 492"}],
 "mark":{"type":"text","xOffset":110,"yOffset":1,"align":"center","baseline":"middle","font":"DejaVu Sans","fontSize":21,"color":"#fff"},
 "encoding":{
  "x":{"field":"i","type":"quantitative","scale":{"domain":[-2.2,514],"nice":false,"zero":false},"axis":null},
  "y":{"field":"c","type":"quantitative","scale":{"domain":[1103.5,1376.5],"nice":false,"zero":false},"axis":null},
  "text":{"field":"c","format":",.2f"}}}
],
"resolve":{"axis":{"x":"independent","y":"independent"}}
}
